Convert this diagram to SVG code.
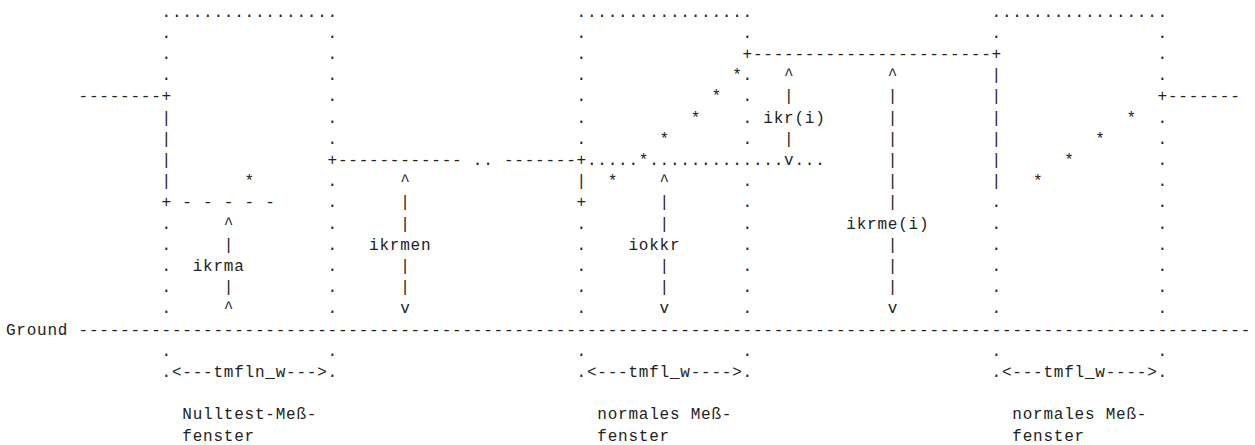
<svg xmlns="http://www.w3.org/2000/svg" width="1255" height="445" viewBox="0 0 1255 445">
<style>
text{font-family:"Liberation Mono","DejaVu Sans Mono",monospace;font-size:16px;letter-spacing:0.775px;fill:#222;white-space:pre}
</style>
<rect width="1255" height="445" fill="#fff"/>
<g id="window-nulltest">
<text x="161.5" y="16.6">.................</text>
<text x="161.5 161.5 161.5" y="37.8 59 80.2">...</text>
<text x="161.5 161.5 161.5 161.5 161.5" y="228.6 249.8 271 292.2 313.4">.....</text>
<text x="161.5" y="355.8">.</text>
<text x="327.5 327.5 327.5 327.5 327.5 327.5" y="37.8 59 80.2 101.4 122.6 143.8">......</text>
<text x="327.5 327.5 327.5 327.5 327.5 327.5 327.5" y="186.2 207.4 228.6 249.8 271 292.2 313.4">.......</text>
<text x="327.5" y="355.8">.</text>
<text x="161.5" y="377">.&lt;---tmfln_w---&gt;.</text>
<text x="182.3" y="419.4">Nulltest-Meß-</text>
<text x="182.3" y="440.6">fenster</text>
</g>
<g id="window-normal-1">
<text x="576.5" y="16.6">.................</text>
<text x="576.5 576.5 576.5 576.5 576.5 576.5" y="37.8 59 80.2 101.4 122.6 143.8">......</text>
<text x="576.5 576.5 576.5 576.5 576.5" y="228.6 249.8 271 292.2 313.4">.....</text>
<text x="576.5" y="355.8">.</text>
<text x="742.5" y="37.8">.</text>
<text x="742.5 742.5 742.5 742.5" y="80.2 101.4 122.6 143.8">....</text>
<text x="742.5 742.5 742.5 742.5 742.5 742.5 742.5" y="186.2 207.4 228.6 249.8 271 292.2 313.4">.......</text>
<text x="742.5" y="355.8">.</text>
<text x="576.5" y="377">.&lt;---tmfl_w----&gt;.</text>
<text x="597.3" y="419.4">normales Meß-</text>
<text x="597.3" y="440.6">fenster</text>
</g>
<g id="window-normal-2">
<text x="991.5" y="16.6">.................</text>
<text x="991.5" y="37.8">.</text>
<text x="991.5 991.5 991.5 991.5 991.5 991.5" y="207.4 228.6 249.8 271 292.2 313.4">......</text>
<text x="991.5" y="355.8">.</text>
<text x="1157.5 1157.5 1157.5" y="37.8 59 80.2">...</text>
<text x="1157.5 1157.5 1157.5 1157.5 1157.5 1157.5 1157.5 1157.5 1157.5 1157.5" y="122.6 143.8 165 186.2 207.4 228.6 249.8 271 292.2 313.4">..........</text>
<text x="1157.5" y="355.8">.</text>
<text x="991.5" y="377">.&lt;---tmfl_w----&gt;.</text>
<text x="1012.3" y="419.4">normales Meß-</text>
<text x="1012.3" y="440.6">fenster</text>
</g>
<g id="ground">
<text x="5.9" y="334.6">Ground</text>
</g>
<g id="connectors">
<text x="78.5" y="101.4">--------+</text>
<text x="161.5 161.5 161.5 161.5" y="122.6 143.8 165 186.2">||||</text>
<text x="161.5 182.3 203 223.8 244.5 265.3" y="207.4">+-----</text>
<text x="244.5" y="186.2">*</text>
<text x="327.5" y="165">+------------</text>
<text x="472.8" y="165">..</text>
<text x="503.9" y="165">-------+</text>
<text x="576.5" y="186.2">|</text>
<text x="576.5" y="207.4">+</text>
<text x="586.9" y="165">.....</text>
<text x="638.8" y="165">*</text>
<text x="649.2" y="165">.............</text>
<text x="794.4" y="165">...</text>
<text x="607.7" y="186.2">*</text>
<text x="659.5" y="143.8">*</text>
<text x="690.7" y="122.6">*</text>
<text x="711.4" y="101.4">*</text>
<text x="732.2" y="80.2">*</text>
<text x="742.5" y="59">+-----------------------+</text>
<text x="991.5 991.5 991.5 991.5 991.5 991.5" y="80.2 101.4 122.6 143.8 165 186.2">||||||</text>
<text x="1033" y="186.2">*</text>
<text x="1064.2" y="165">*</text>
<text x="1095.3" y="143.8">*</text>
<text x="1126.4" y="122.6">*</text>
<text x="1157.5" y="101.4">+-------</text>
<text x="78.5" y="334.6">-----------------------------------------------------------------------------------------------------------------</text>
</g>
<g id="ikrma">
<text x="223.8 223.8" y="228.6 249.8">^|</text>
<text x="192.7" y="271">ikrma</text>
<text x="223.8 223.8" y="292.2 313.4">|^</text>
</g>
<g id="ikrmen">
<text x="400.2 400.2 400.2" y="186.2 207.4 228.6">^||</text>
<text x="369" y="249.8">ikrmen</text>
<text x="400.2 400.2 400.2" y="271 292.2 313.4">||v</text>
</g>
<g id="iokkr">
<text x="659.5 659.5 659.5" y="186.2 207.4 228.6">^||</text>
<text x="628.4" y="249.8">iokkr</text>
<text x="659.5 659.5 659.5" y="271 292.2 313.4">||v</text>
</g>
<g id="ikr-i">
<text x="784 784" y="80.2 101.4">^|</text>
<text x="763.3" y="122.6">ikr(i)</text>
<text x="784" y="143.8">|</text>
<text x="784" y="165">v</text>
</g>
<g id="ikrme-i">
<text x="887.8 887.8 887.8 887.8 887.8 887.8 887.8" y="80.2 101.4 122.6 143.8 165 186.2 207.4">^||||||</text>
<text x="846.3" y="228.6">ikrme(i)</text>
<text x="887.8 887.8 887.8 887.8" y="249.8 271 292.2 313.4">|||v</text>
</g>
</svg>
